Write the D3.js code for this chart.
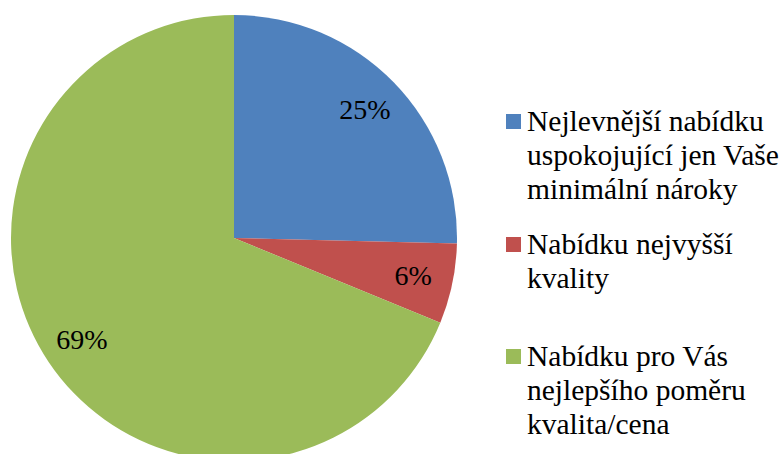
<!DOCTYPE html>
<html><head><meta charset="utf-8">
<script src="https://cdn.jsdelivr.net/npm/d3@7"></script>
<style>
@font-face { font-family: "ChartSerif"; src: local("Liberation Serif"), local("LiberationSerif"), local("Times New Roman"); }
svg text { font-family: "Times New Roman", Tinos, "Liberation Serif", ChartSerif, Times, serif !important; }
</style>
</head><body style="margin:0">
<script>
const categories = [
  ["Nejlevnější nabídku", "uspokojující jen Vaše", "minimální nároky"],
  ["Nabídku nejvyšší", "kvality"],
  ["Nabídku pro Vás", "nejlepšího poměru", "kvalita/cena"]
];
const values = [25.4, 5.8, 68.8];
const labels = ["25%", "6%", "69%"];
const colors = ["#4F81BD", "#C0504D", "#9BBB59"];

const W = 784, H = 454;
const svg = d3.select("body").append("svg").attr("width", W).attr("height", H)
  .style("display", "block");
const cx = 234, cy = 238, r = 223;
const pie = d3.pie().sort(null).value(d => d)(values);
const arc = d3.arc().innerRadius(0).outerRadius(r);
const labelArc = d3.arc().innerRadius(183).outerRadius(183);
const g = svg.append("g").attr("transform", `translate(${cx},${cy})`);
g.selectAll("path").data(pie).join("path")
  .attr("d", arc).attr("fill", (d, i) => colors[i]);
g.selectAll("text").data(pie).join("text")
  .attr("transform", d => `translate(${labelArc.centroid(d)})`)
  .attr("text-anchor", "middle").attr("dy", "0.33em")
  .attr("font-size", 28).attr("fill", "#000")
  .text((d, i) => labels[i]);

const legendTops = [122, 245, 357];
categories.forEach((lines, i) => {
  svg.append("rect").attr("x", 506).attr("y", legendTops[i] - 8).attr("width", 15).attr("height", 15)
    .attr("fill", colors[i]);
  lines.forEach((l, j) => svg.append("text").attr("x", 527).attr("y", legendTops[i] + j * 34)
    .attr("dy", "0.3em").attr("font-size", 29.5).attr("fill", "#000").text(l));
});
</script>
</body></html>
